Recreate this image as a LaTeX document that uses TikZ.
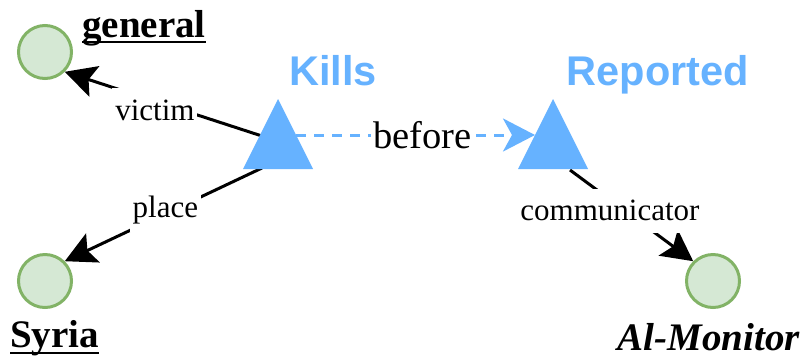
\documentclass[tikz,border=0pt]{standalone}
\usepackage{fontspec}
\setmainfont{Liberation Serif}
\newfontfamily\headfont{Liberation Sans}
\usetikzlibrary{arrows.meta,shapes.geometric,backgrounds,calc}
\definecolor{evblue}{HTML}{66B2FF}
\definecolor{entfill}{HTML}{D5E8D4}
\definecolor{entline}{HTML}{82B366}
\begin{document}
\begin{tikzpicture}[x=1pt,y=-1pt,
  entity/.style={circle,draw=entline,fill=entfill,line width=3pt,minimum size=53pt,inner sep=0pt},
  event/.style={isosceles triangle,isosceles triangle stretches,shape border rotate=90,
    fill=evblue,minimum width=70pt,minimum height=70pt,inner sep=0pt,outer sep=0pt,anchor=apex},
  evtitle/.style={font=\headfont\bfseries\fontsize{41.5}{41.5}\selectfont,text=evblue,anchor=base,inner sep=0pt},
  enttitle/.style={font=\bfseries\fontsize{39}{39}\selectfont,inner sep=0pt},
  uline/.style={line width=2.5pt},
  role/.style={line width=3pt,-{Stealth[length=31pt 0 0,width=32pt 0,inset=6pt 0]}},
  order/.style={line width=3pt,draw=evblue,dash pattern=on 10pt off 8pt,
    -{Stealth[length=32pt 0 0,width=33pt 0,inset=9pt 0,fill=evblue]}},
  rolelabel/.style={font=\fontsize{31}{31}\selectfont,fill=white,inner xsep=3pt,inner ysep=0pt,minimum height=44pt},
]
\useasboundingbox (0,0) rectangle (805,360);

% entities
\node[entity] (general) at (45,52) {};
\node[entity] (syria) at (45,281) {};
\node[entity] (almon) at (713,281) {};

% events
\node[event] (kills) at (278,99) {};
\node[event] (reported) at (553,99) {};

% titles
\node[evtitle] (killst) at (333,85) {Kills};
\node[evtitle] (reportedt) at (658,85) {Reported};
\node[enttitle,anchor=base west] (generalt) at (82,37) {general};
\node[enttitle,anchor=base west] (syriat) at (10,347) {Syria};
\node[enttitle,anchor=base east] (almont) at (800,350) {\itshape Al-Monitor};
\draw[uline] ($(generalt.base west)+(0,5)$) -- ($(generalt.base east)+(0,5)$);
\draw[uline] ($(syriat.base west)+(0,6)$) -- ($(syriat.base east)+(0,6)$);

% connector end points on the event triangles
\coordinate (kv) at ($(kills.apex)+(-13,38)$);
\coordinate (kp) at ($(kills.apex)+(-16,69)$);
\coordinate (kb) at ($(kills.apex)+(18,36)$);
\coordinate (rb) at ($(reported.apex)+(-18,36)$);
\coordinate (rc) at ($(reported.apex)+(17,71)$);

\begin{scope}[on background layer]
\fill[white] (0,0) rectangle (805,360);
\draw[role] (kv) -- node[rolelabel,pos=0.55,yshift=-9pt] {victim} (general.-45);
\draw[role] (kp) -- node[rolelabel,pos=0.49,yshift=4pt] {place} (syria.45);
\draw[role] (rc) -- node[rolelabel,pos=0.446,xshift=-15pt] {communicator} (almon.135);
\draw[order] (kb) -- node[rolelabel,pos=0.53,font=\fontsize{38.5}{38.5}\selectfont] {before} (rb);
\end{scope}
\end{tikzpicture}
\end{document}
